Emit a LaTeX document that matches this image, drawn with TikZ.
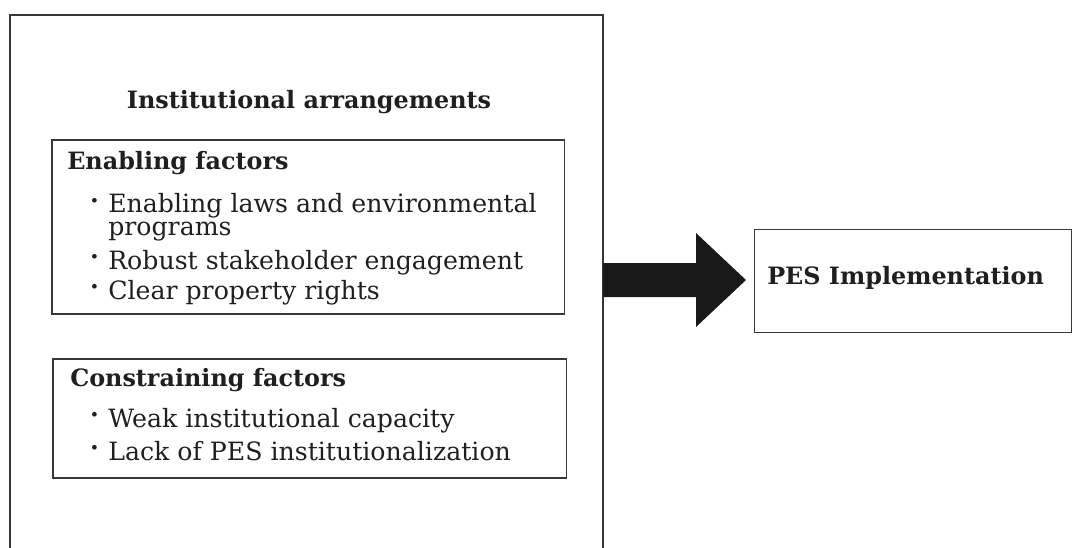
\documentclass[tikz,border=0pt]{standalone}
\usepackage{fontspec}
\setmainfont{DejaVu Serif}
\newcommand\itemdot{\llap{\raisebox{0.12em}{\bfseries ·}\hspace{7pt}}}
\begin{document}
\begin{tikzpicture}[x=0.75pt,y=-0.75pt,
  box/.style={draw=black!78, line width=1.1pt},
  txt/.style={anchor=base west, inner sep=0pt, text=black!88, font=\fontsize{18.9}{17.2}\selectfont},
  head/.style={anchor=base west, inner sep=0pt, text=black!88, font=\fontsize{17.9}{21}\selectfont\bfseries},
  blockarrow/.style={fill=black!90, draw=none}]
\useasboundingbox (0,0) rectangle (1072,547);
% outer frame (cut off at the bottom)
\draw[box] (10,560) -- (10,15) -- (603,15) -- (603,560);
\coordinate (outerE) at (603,280);
\node[head, anchor=base] (title) at (309,108) {Institutional arrangements};
% enabling factors
\draw[box] (52,140) rectangle (564.5,314);
\node[head] (enh) at (67,169) {Enabling factors};
\node[txt, align=left] (e1) at (108,235) {\itemdot Enabling laws and environmental\\programs};
\node[txt] (e2) at (108,269) {\itemdot Robust stakeholder engagement};
\node[txt] (e3) at (108,299) {\itemdot Clear property rights};
% constraining factors
\draw[box] (53,359) rectangle (566.5,478);
\node[head] (cnh) at (70,386) {Constraining factors};
\node[txt] (c1) at (108,427) {\itemdot Weak institutional capacity};
\node[txt] (c2) at (108,460) {\itemdot Lack of PES institutionalization};
% PES box
\node[box, anchor=north west, inner sep=0pt, minimum width=237.4pt, minimum height=77.25pt] (pesbox) at (754,229) {};
\node[head] (pes) at (767,284) {PES Implementation};
% block arrow
\fill[blockarrow] (outerE |- 0,263) -- (696,263) -- (696,233) -- (746,280) -- (696,327) -- (696,297) -- (outerE |- 0,297) -- cycle;
\end{tikzpicture}
\end{document}
